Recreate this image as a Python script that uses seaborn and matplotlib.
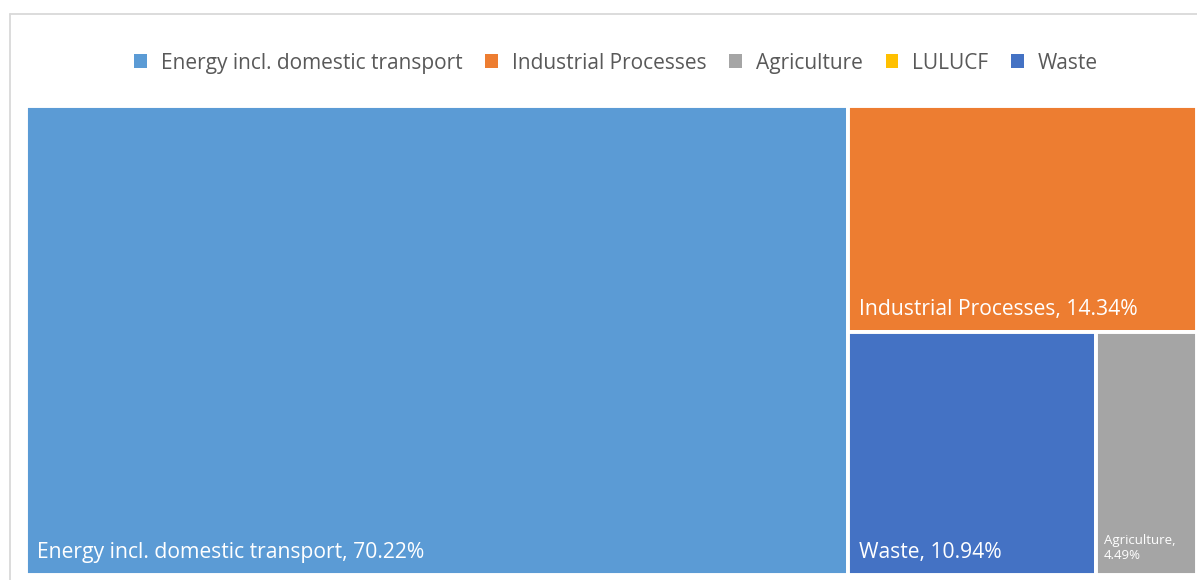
import matplotlib
matplotlib.use("Agg")
import matplotlib.pyplot as plt
from matplotlib.patches import Rectangle, Patch
from matplotlib.lines import Line2D
import seaborn as sns

# Emission shares by sector (%)
categories = ["Energy incl. domestic transport", "Industrial Processes",
              "Agriculture", "LULUCF", "Waste"]
shares = [70.22, 14.34, 4.49, 0.0, 10.94]
colors = ["#5B9BD5", "#ED7D31", "#A5A5A5", "#FFC000", "#4472C4"]

sns.set_theme(style="white")
plt.rcParams["font.family"] = ["Open Sans", "DejaVu Sans"]

W, H = 1169.0, 467.0  # drawing area in pixel-like data units


def worst(row, side):
    s = sum(row)
    return max(max(side * side * r / (s * s), s * s / (side * side * r)) for r in row)


def squarify(areas, x, y, w, h):
    rects = []
    areas = list(areas)
    while areas:
        side = min(w, h)
        row = [areas.pop(0)]
        while areas and worst(row + [areas[0]], side) <= worst(row, side):
            row.append(areas.pop(0))
        s = sum(row)
        if w >= h:
            t = s / h
            yy = y
            for a in row:
                rects.append((x, yy, t, a / t))
                yy += a / t
            x += t
            w -= t
        else:
            t = s / w
            xx = x
            for a in row:
                rects.append((xx, y, a / t, t))
                xx += a / t
            y += t
            h -= t
    return rects


# Tiles in descending order, zero-share sectors omitted
order = sorted([i for i, v in enumerate(shares) if v > 0], key=lambda i: -shares[i])
total = sum(shares[i] for i in order)
areas = [shares[i] / total * W * H for i in order]
rects = squarify(areas, 0.0, 0.0, W, H)

fig = plt.figure(figsize=(11.97, 5.8), dpi=100)
ax = fig.add_axes([26 / 1197, 5 / 580, 1171 / 1197, 469 / 580])
ax.set_xlim(0, W)
ax.set_ylim(H, 0)
ax.axis("off")

for i, (x, y, w, h) in zip(order, rects):
    ax.add_patch(Rectangle((x, y), w, h, facecolor=colors[i],
                           edgecolor="white", linewidth=2.8))
    if w < 150:
        ax.text(x + 8, y + h - 27, f"{categories[i].split()[0]},\n{shares[i]:.2f}%",
                color="white", fontsize=9.5, va="center", ha="left", linespacing=1.15)
    else:
        ax.text(x + 11, y + h - 22, f"{categories[i]}, {shares[i]:.2f}%",
                color="white", fontsize=15.2, va="center", ha="left")

handles = [Patch(facecolor=c, edgecolor="none") for c in colors]
fig.legend(handles, categories, loc="center", bbox_to_anchor=(616 / 1197, 1 - 63 / 580),
           ncol=5, frameon=False, fontsize=15, labelcolor="#595959",
           handlelength=0.62, handleheight=0.62, handletextpad=0.65,
           columnspacing=1.1)

# Chart frame
fig.add_artist(Line2D([10 / 1197, 10 / 1197], [0, 1 - 14 / 580],
                      transform=fig.transFigure, color="#D9D9D9", lw=1.3))
fig.add_artist(Line2D([10 / 1197, 1], [1 - 14 / 580, 1 - 14 / 580],
                      transform=fig.transFigure, color="#D9D9D9", lw=1.3))

fig.savefig("out.png", dpi=100, facecolor="white")
